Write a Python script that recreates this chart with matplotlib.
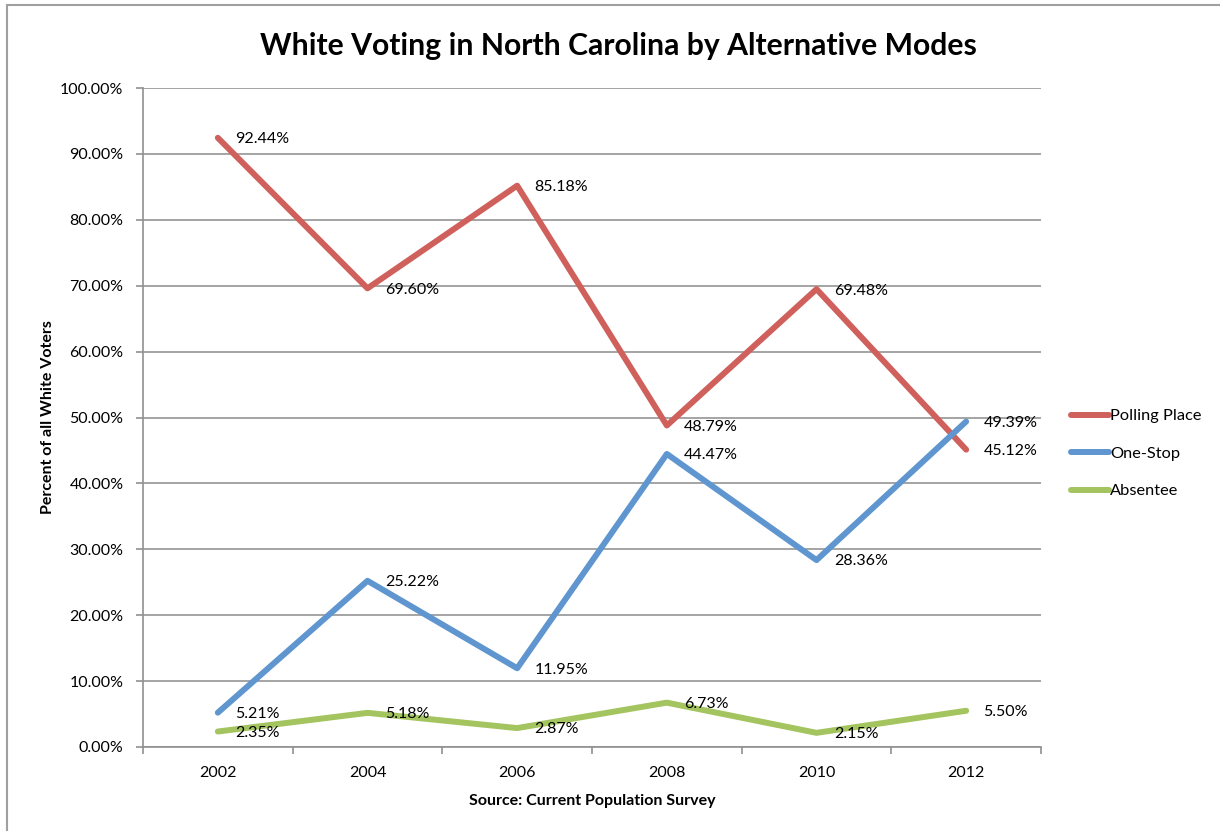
import matplotlib
matplotlib.use('Agg')
import matplotlib.pyplot as plt
from matplotlib.patches import Rectangle
from matplotlib.ticker import FixedLocator, FuncFormatter

plt.rcParams['font.family'] = ['Lato', 'DejaVu Sans']

years = ['2002', '2004', '2006', '2008', '2010', '2012']
polling_place = [92.44, 69.60, 85.18, 48.79, 69.48, 45.12]
one_stop = [5.21, 25.22, 11.95, 44.47, 28.36, 49.39]
absentee = [2.35, 5.18, 2.87, 6.73, 2.15, 5.50]

series = [
    ('Polling Place', polling_place, '#d0605c'),
    ('One-Stop', one_stop, '#5f96cf'),
    ('Absentee', absentee, '#a3c45e'),
]

fig = plt.figure(figsize=(12.2, 8.31), dpi=100)
ax = fig.add_axes([143 / 1220, 1 - 747 / 831, 898 / 1220, 659 / 831])

# outer chart border
fig.patches.append(Rectangle((7 / 1220, -0.01), 1.02, 1 - 5 / 831 + 0.01,
                             transform=fig.transFigure, fill=False,
                             edgecolor='#a0a0a0', linewidth=1.5))

x = list(range(len(years)))
for name, vals, col in series:
    ax.plot(x, vals, color=col, linewidth=4.3, solid_capstyle='round',
            label=name, zorder=3)
    for xi, v in zip(x, vals):
        ax.annotate(f'{v:.2f}%', (xi, v), xytext=(12.5, -1),
                    textcoords='offset points', ha='left', va='center',
                    fontsize=11.5, color='black', zorder=4)

ax.set_xlim(-0.5, len(years) - 0.5)
ax.set_ylim(0, 100)
ax.set_yticks(range(0, 101, 10))
ax.yaxis.set_major_formatter(FuncFormatter(lambda v, p: f'{v:.2f}%'))
ax.set_xticks(x)
ax.set_xticklabels(years)
ax.xaxis.set_minor_locator(FixedLocator([i - 0.5 for i in range(len(years) + 1)]))
ax.tick_params(axis='x', which='major', length=0, labelsize=11.5, pad=14)
ax.tick_params(axis='x', which='minor', length=5, color='#909090', width=1.2)
ax.tick_params(axis='y', length=5, color='#909090', width=1.2, labelsize=11.5, pad=9)

ax.grid(axis='y', color='#8c8c8c', linewidth=1.1)
ax.set_axisbelow(True)
for s in ['top', 'right']:
    ax.spines[s].set_visible(False)
for s in ['left', 'bottom']:
    ax.spines[s].set_color('#909090')
    ax.spines[s].set_linewidth(1.2)

ax.set_ylabel('Percent of all White Voters', fontsize=11.5, fontweight='bold', labelpad=3.5)
ax.set_xlabel('Source: Current Population Survey', fontsize=11.5, fontweight='bold', labelpad=10)
fig.suptitle('White Voting in North Carolina by Alternative Modes', x=618 / 1220,
             y=1 - 46 / 831, va='center', fontsize=21.7, fontweight='bold')

fig.legend(loc='upper left', bbox_to_anchor=(1071 / 1220, 1 - 409 / 831),
           frameon=False, fontsize=11.8, handlelength=2.3, handletextpad=0.1,
           labelspacing=1.4, borderpad=0, borderaxespad=0)

plt.savefig('out.png', dpi=100)
plt.close()
